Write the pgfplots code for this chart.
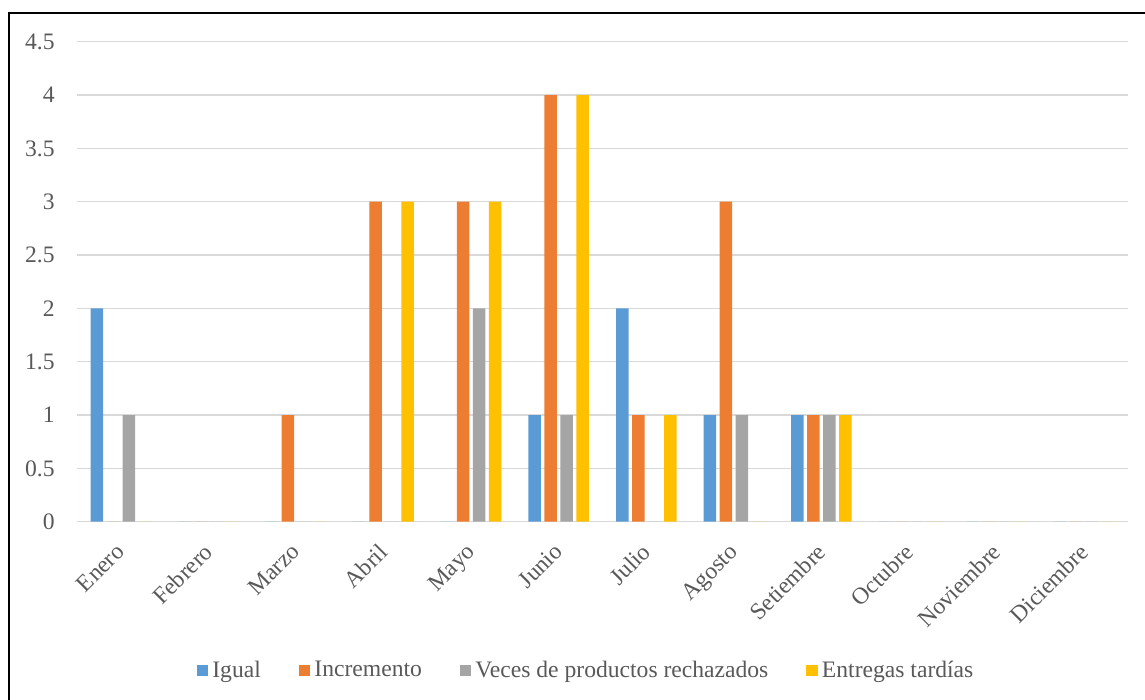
\documentclass[border=0pt]{standalone}
\usepackage{pgfplots}
\usepackage{pgfplotstable}
\pgfplotsset{compat=1.18}
\usepackage{fontspec}
\setmainfont{Liberation Serif}

\definecolor{cIgual}{HTML}{5B9BD5}
\definecolor{cIncr}{HTML}{ED7D31}
\definecolor{cVeces}{HTML}{A5A5A5}
\definecolor{cEntr}{HTML}{FFC000}
\definecolor{gridgray}{HTML}{D9D9D9}
\definecolor{textgray}{HTML}{595959}

% mes igual incremento rechazados tardias
\pgfplotstableread{
m igual incr veces entr
0 2 0 1 0
1 0 0 0 0
2 0 1 0 0
3 0 3 0 3
4 0 3 2 3
5 1 4 1 4
6 2 1 0 1
7 1 3 1 0
8 1 1 1 1
9 0 0 0 0
10 0 0 0 0
11 0 0 0 0
}\datos

\newcommand{\lblfont}{\fontsize{11.8}{14}\selectfont}

\begin{document}
\begin{tikzpicture}
\useasboundingbox (0,0) rectangle (572.5pt,350pt);
\draw[line width=1pt, black] (4.25pt,-20pt) rectangle (600pt,343.65pt);
\begin{axis}[
  at={(38.5pt,89.15pt)}, anchor=south west,
  scale only axis, width=525.5pt, height=240pt,
  ybar=1.75pt, bar width=6.25pt,
  xmin=-0.5, xmax=11.5, ymin=0, ymax=4.5,
  xtick={0,1,2,3,4,5,6,7,8,9,10,11},
  xticklabels={Enero,Febrero,Marzo,Abril,Mayo,Junio,Julio,Agosto,Setiembre,Octubre,Noviembre,Diciembre},
  ytick={0,0.5,1,1.5,2,2.5,3,3.5,4,4.5},
  yticklabels={0,0.5,1,1.5,2,2.5,3,3.5,4,4.5},
  /pgf/number format/assume math mode=true,
  axis line style={draw=none},
  major tick length=0pt,
  ymajorgrids, grid style={color=gridgray, line width=0.75pt},
  tick label style={font=\lblfont, text=textgray},
  yticklabel style={anchor=east, inner sep=0pt, xshift=-11pt},
  xticklabel style={inner sep=0pt, xshift=-3pt, yshift=-10pt, rotate=45, anchor=north east},
  legend style={at={(0.4853,-0.31)}, anchor=center, draw=none, fill=none,
    font=\lblfont, text=textgray, legend columns=4,
    /tikz/every even column/.append style={column sep=17pt}},
  legend image code/.code={\fill[#1] (0pt,-2.9pt) rectangle (5.8pt,2.9pt);},
  every axis plot/.append style={draw=none},
]
\addplot[fill=cIgual] table[x=m,y=igual] {\datos};
\addplot[fill=cIncr] table[x=m,y=incr] {\datos};
\addplot[fill=cVeces] table[x=m,y=veces] {\datos};
\addplot[fill=cEntr] table[x=m,y=entr] {\datos};
\legend{Igual,Incremento,Veces de productos rechazados,Entregas tardías}
\end{axis}
\end{tikzpicture}
\end{document}
